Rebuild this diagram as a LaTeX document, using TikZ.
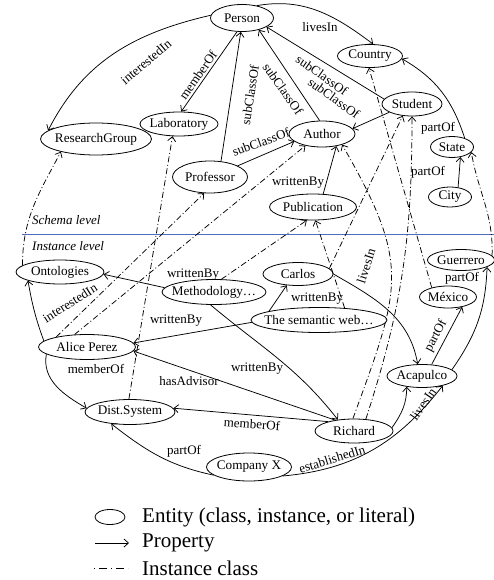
\documentclass[tikz,border=0pt]{standalone}
\usepackage{fontspec}
\setmainfont{Liberation Serif}
\usetikzlibrary{shapes.geometric, arrows.meta}
\definecolor{levelblue}{RGB}{80,108,188}
\begin{document}
\begin{tikzpicture}[x=1pt,y=1pt,
  ent/.style 2 args={draw, ellipse, line width=0.8pt, inner xsep=-40pt, inner ysep=-12pt,
    minimum width=#1, minimum height=#2, font=\fontsize{13.2}{15}\selectfont},
  lbl/.style={font=\fontsize{13}{15}\selectfont, inner sep=0pt},
  prop/.style={draw, line width=0.75pt, -{Straight Barb[length=4.5pt,width=8pt]}},
  inst/.style={prop, dash pattern=on 6pt off 2.5pt on 1pt off 2.5pt},
  lvl/.style={font=\itshape\fontsize{13}{15}\selectfont, anchor=west, inner sep=0pt},
  leg/.style={font=\fontsize{21}{24}\selectfont, anchor=west, inner sep=0pt}
]
\useasboundingbox (0,0) rectangle (494,-580);

% ---------- schema level nodes
\node[ent={63pt}{27pt}] (person) at (242,-18) {Person};
\node[ent={65pt}{23pt}] (country) at (370,-56) {Country};
\node[ent={60pt}{24pt}] (student) at (412,-104) {Student};
\node[ent={111pt}{32pt}] (rg) at (96,-139) {ResearchGroup};
\node[ent={78pt}{24pt}] (lab) at (179,-124) {Laboratory};
\node[ent={66pt}{26pt}] (author) at (322,-134) {Author};
\node[ent={43pt}{21pt}] (state) at (452,-147) {State};
\node[ent={75pt}{32pt}] (prof) at (210,-177) {Professor};
\node[ent={87pt}{26pt}] (pub) at (313,-207) {Publication};
\node[ent={43pt}{20pt}] (city) at (450,-197) {City};

% ---------- level separator
\coordinate (sepL) at (22,-234);
\coordinate (sepR) at (494,-234);
\draw[levelblue, line width=0.9pt] (sepL) -- (sepR);
\node[lvl] (schema) at (32,-220) {Schema level};
\node[lvl] (instance) at (32,-246) {Instance level};

% ---------- instance level nodes
\node[ent={88pt}{24pt}] (onto) at (60,-272) {Ontologies};
\node[ent={67pt}{21pt}] (guer) at (461,-260) {Guerrero};
\node[ent={70pt}{23pt}] (carlos) at (298,-274) {Carlos};
\node[ent={104pt}{25pt}] (meth) at (214,-292) {Methodology\ldots};
\node[ent={57pt}{22pt}] (mex) at (448,-297) {México};
\node[ent={136pt}{25pt}] (sem) at (319,-320) {The semantic web\ldots};
\node[ent={97pt}{25pt}] (alice) at (87,-347) {Alice Perez};
\node[ent={70pt}{23pt}] (aca) at (422,-376) {Acapulco};
\node[ent={90pt}{25pt}] (dist) at (130,-412) {Dist.System};
\node[ent={78pt}{24pt}] (richard) at (354,-431) {Richard};
\node[ent={85pt}{28pt}] (comp) at (249,-467) {Company X};

% ---------- schema properties
\draw[prop] (person.175) to[out=193,in=63] (rg.170)
  node[lbl, rotate=40] at (146,-62) {interestedIn};
\draw[prop] (person.250) -- (lab.80)
  node[lbl, rotate=55] at (198,-75) {memberOf};
\draw[prop] (prof.55) -- (person.265)
  node[lbl, rotate=81] at (250,-95) {subClassOf};
\draw[prop] (author.100) -- (person.325)
  node[lbl, rotate=-55] at (283,-89) {subClassOf};
\draw[prop] (student.170) -- (person.340)
  node[lbl, rotate=-35] at (322,-75) {subClassOf};
\draw[prop] (student.-160) -- (author.10)
  node[lbl, rotate=-36] at (334,-98) {subClassOf};
\draw[prop] (prof.22) -- (author.195)
  node[lbl, rotate=20] at (261,-142) {subClassOf};
\draw[prop] (pub.52) -- (author.-40)
  node[lbl] at (298,-183) {writtenBy};
\draw[prop] (person.40) to[out=10,in=143] (country.75)
  node[lbl] at (320,-27) {livesIn};
\draw[prop] (state.35) to[out=108,in=-30] (country.-5)
  node[lbl] at (438,-128) {partOf};
\draw[prop] (city.50) -- (state.-50)
  node[lbl] at (428,-172) {partOf};

% ---------- instance properties
\draw[prop] (alice.172) to[out=110,in=-80] (onto.195)
  node[lbl, rotate=32] at (70,-303) {interestedIn};
\draw[prop] (alice.190) to[out=-100,in=150] (dist.175)
  node[lbl] at (96,-369) {memberOf};
\draw[prop] (meth.175) -- (onto.-3)
  node[lbl] at (193,-275) {writtenBy};
\draw[prop] (meth.-105) to[out=-40,in=128] (richard.145)
  node[lbl] at (257,-369) {writtenBy};
\draw[prop] (sem.182) -- (alice.5)
  node[lbl] at (176,-321) {writtenBy};
\draw[prop] (richard.150) -- (alice.-5)
  node[lbl] at (189,-381) {hasAdvisor};
\draw[prop] (sem.170) -- (carlos.-135)
  node[lbl] at (317,-299) {writtenBy};
\draw[prop] (richard.160) -- (dist.5)
  node[lbl, rotate=-4] at (252,-424) {memberOf};
\draw[prop] (comp.193) to[out=168,in=-38] (dist.-148)
  node[lbl] at (184,-451) {partOf};
\draw[prop] (comp.-15) to[out=5,in=232] (aca.-25)
  node[lbl, rotate=17] at (332,-459) {establishedIn};
\draw[prop] (richard.5) to[out=55,in=-90] (aca.-145)
  node[lbl, rotate=55] at (423,-404) {livesIn};
\draw[prop] (carlos.0) to[out=-30,in=100] (aca.110)
  node[lbl, rotate=72] at (366,-266) {livesIn};
\draw[prop] (aca.50) -- (mex.-35)
  node[lbl, rotate=62] at (436,-336) {partOf};
\draw[prop] (aca.12) to[out=55,in=-92] (guer.-15)
  node[lbl] at (462,-278) {partOf};

% ---------- instance-of links
\draw[inst] (onto.170) to[out=90,in=-118] (rg.200);
\draw[inst] (dist.95) -- (lab.-118);
\draw[inst] (alice.162) -- (prof.-110);
\draw[inst] (alice.135) -- (author.-145);
\draw[inst] (meth.60) -- (pub.-115);
\draw[inst] (sem.25) -- (pub.-80);
\draw[inst] (carlos.10) -- (student.-128);
\draw[inst] (richard.95) to[out=70,in=-60,looseness=1.3] (author.-28);
\draw[inst] (richard.45) to[out=72,in=-90] (student.-90);
\draw[inst] (mex.150) -- (country.-95);
\draw[inst] (guer.8) to[out=88,in=-80] (state.-15);

% ---------- legend
\node[draw, ellipse, line width=0.8pt, inner sep=0pt, minimum width=30pt, minimum height=15pt] (legent) at (110,-517) {};
\node[leg] (legenttext) at (142,-517) {Entity (class, instance, or literal)};
\coordinate (lpa) at (95,-543);
\coordinate (lpb) at (129,-543);
\draw[prop] (lpa) -- (lpb);
\node[leg] (legprop) at (142,-543) {Property};
\coordinate (lia) at (94,-568);
\coordinate (lib) at (128,-568);
\draw[line width=0.75pt, dash pattern=on 1pt off 4pt on 8pt off 4pt] (lia) -- (lib);
\node[leg] (leginst) at (142,-568) {Instance class};
\end{tikzpicture}
\end{document}
